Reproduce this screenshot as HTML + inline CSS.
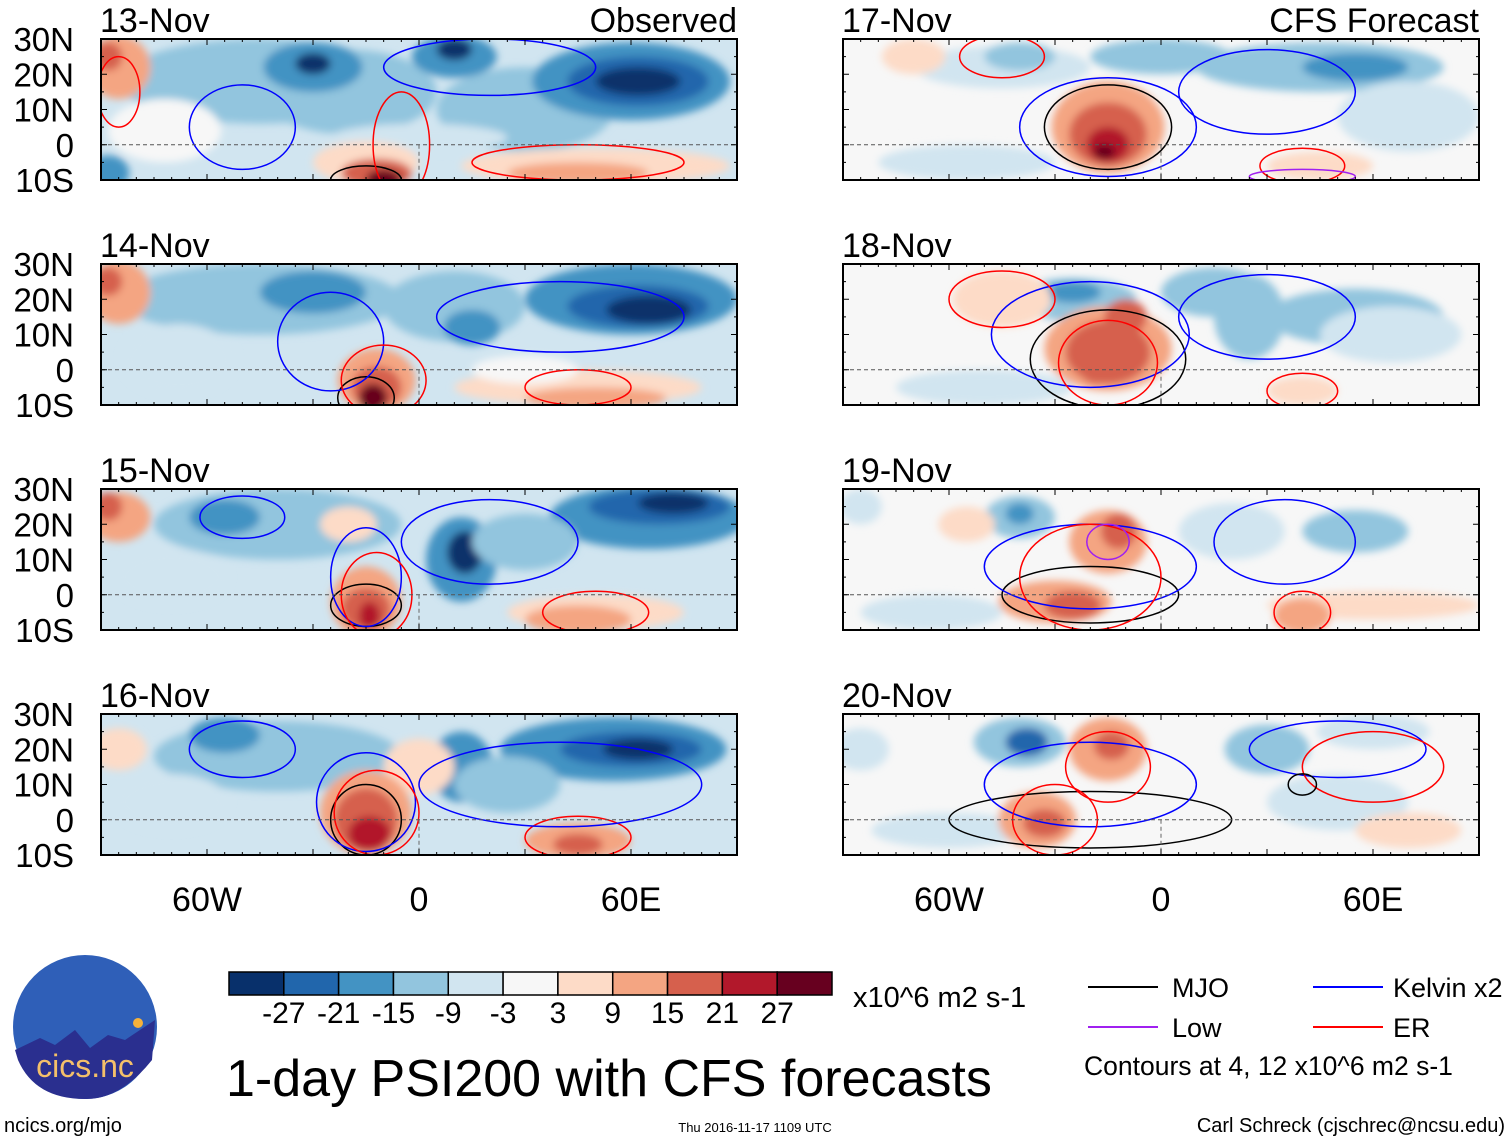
<!DOCTYPE html>
<html><head><meta charset="utf-8">
<style>
html,body{margin:0;padding:0;background:#fff;}
svg{display:block;font-family:"Liberation Sans",Arial,sans-serif;}
</style></head>
<body>
<svg id="fig" width="1510" height="1142" viewBox="0 0 1510 1142" xmlns="http://www.w3.org/2000/svg">
<defs>
<filter id="blur" x="-20%" y="-20%" width="140%" height="140%"><feGaussianBlur stdDeviation="4"/></filter>
</defs>
<g id="panels"></g>
<g id="bottom"></g>
</svg>
<script>
// ---- data ----
const panelTitles = ["13-Nov","14-Nov","15-Nov","16-Nov","17-Nov","18-Nov","19-Nov","20-Nov"];
const latTicks = [30,20,10,0,-10];
const latLabels = ["30N","20N","10N","0","10S"];
const lonTicks = [-60,0,60];
const lonLabels = ["60W","0","60E"];
const cbLevels = [-27,-21,-15,-9,-3,3,9,15,21,27];
const cbColors = ["#08306b","#2166ac","#4393c3","#92c5de","#d1e5f0","#f7f7f7","#fddbc7","#f4a582","#d6604d","#b2182b","#67001f"];
const panelBase = [-8,-8,-7,-7,-1,-1,-1,-1];
// blobs per panel: [lon, lat, rxDeg, ryDeg, value]
const blobs0 = [[-45,18,40,12,-12],[-20,15,25,12,-14],[30,10,25,12,-11],[-30,22,14,7,-19],[-30,23,5,3,-28],[10,25,12,6,-20],[10,27,5,3,-28],[60,18,28,11,-17],[62,18,20,7,-23],[62,18,12,4,-30],[-72,4,16,9,-2],[0,2,25,4,-3],[-85,22,9,9,10],[-88,25,4,4,17],[50,-6,38,5,6],[45,-8,20,3,12],[-15,-5,15,6,8],[-12,-8,10,4,18],[-10,-10,5,3,28],[-88,-8,6,5,-20]];
const blobs1 = [[-45,20,40,10,-12],[-30,22,15,6,-16],[10,18,20,10,-14],[15,12,8,5,-20],[60,20,30,10,-18],[62,18,20,6,-24],[65,17,12,4,-30],[-68,3,16,10,-3],[-85,22,9,9,10],[-88,25,4,4,17],[45,-5,35,5,6],[50,-8,20,3,10],[-12,-3,11,9,12],[-12,-5,7,6,20],[-13,-8,4,4,29],[30,0,15,4,-2]];
const blobs2 = [[-40,20,35,10,-11],[-55,22,10,5,-17],[65,22,28,9,-18],[68,25,20,5,-24],[72,26,10,3,-30],[12,10,10,12,-18],[13,12,5,6,-27],[30,15,15,8,-14],[-85,22,9,7,10],[-88,25,4,4,16],[-70,5,16,8,-3],[50,-5,25,5,7],[45,-7,15,4,13],[-20,20,8,5,6],[-15,-2,10,10,12],[-15,-4,7,6,20],[-14,-6,3,4,27]];
const blobs3 = [[-40,18,35,10,-11],[-55,24,10,5,-16],[55,20,32,9,-16],[60,20,20,5,-22],[62,20,10,3,-27],[12,15,9,10,-16],[25,10,15,8,-11],[-85,20,8,6,6],[-70,5,16,8,-3],[45,-6,15,5,10],[45,-7,7,3,17],[0,15,10,8,6],[-15,2,13,12,12],[-15,0,9,9,18],[-14,-4,6,5,25]];
const blobs4 = [[45,22,35,7,-12],[55,22,15,4,-20],[-45,22,25,6,-8],[-40,25,10,4,-12],[0,25,20,5,-10],[70,8,20,10,-7],[-55,-5,25,5,-5],[45,-6,15,4,8],[-70,25,9,5,7],[-15,5,16,13,10],[-15,3,11,9,16],[-15,0,6,5,24],[-16,-2,3,2,29],[-85,5,8,8,-2]];
const blobs5 = [[-75,10,15,10,-2],[-25,20,18,6,-12],[-25,22,8,3,-16],[15,22,15,7,-12],[25,15,10,12,-9],[55,15,25,8,-11],[65,10,20,8,-7],[-50,-5,25,5,-4],[40,-6,10,4,8],[-45,20,14,8,7],[-15,6,18,12,10],[-15,5,12,9,16],[-18,0,5,4,21],[-10,15,6,5,16]];
const blobs6 = [[-40,22,10,6,-13],[-40,23,4,3,-18],[20,18,15,8,-8],[55,18,15,6,-10],[-65,-5,20,5,-4],[60,-3,30,4,5],[40,-6,8,5,10],[-55,20,8,5,7],[-15,15,11,9,10],[-12,18,5,5,17],[-30,-2,16,6,10],[-25,-3,8,4,16],[-85,25,6,5,-6]];
const blobs7 = [[-60,-3,22,5,-5],[-40,22,13,7,-13],[-38,22,6,4,-22],[30,20,12,7,-10],[60,25,16,5,-8],[50,5,20,8,-5],[70,-3,15,5,6],[-15,20,11,9,10],[-14,21,5,4,18],[-35,0,11,8,10],[-33,-1,6,4,20],[-85,20,8,6,-4]];
const panelBlobs = [blobs0,blobs1,blobs2,blobs3,blobs4,blobs5,blobs6,blobs7];
// contours per panel: [kind, lon, lat, rxDeg, ryDeg]
const cont0 = [["k",-15,-10,10,4],["b",-50,5,15,12],["b",20,22,30,8],["r",-5,0,8,15],["r",45,-5,30,5],["r",-85,15,6,10]];
const cont1 = [["k",-15,-8,8,6],["b",-25,8,15,14],["b",40,15,35,10],["r",-10,-3,12,10],["r",45,-5,15,5]];
const cont2 = [["k",-15,-3,10,6],["b",-15,5,10,14],["b",20,15,25,12],["r",-12,0,10,12],["r",50,-5,15,6],["b",-50,22,12,6]];
const cont3 = [["k",-15,0,10,10],["b",-15,5,14,14],["r",-12,2,12,12],["r",45,-5,15,6],["b",-50,20,15,8],["b",40,10,40,12]];
const cont4 = [["k",-15,5,18,12],["b",-15,5,25,14],["b",30,15,25,12],["r",40,-6,12,5],["r",-45,25,12,6],["p",40,-9,15,2]];
const cont5 = [["k",-15,3,22,14],["b",-20,10,28,15],["b",30,15,25,12],["r",-15,2,14,12],["r",-45,20,15,8],["r",40,-6,10,5]];
const cont6 = [["k",-20,0,25,8],["b",-20,8,30,12],["b",35,15,20,12],["r",-20,5,20,15],["r",40,-5,8,6],["p",-15,15,6,5]];
const cont7 = [["k",-20,0,40,8],["b",-20,10,30,12],["b",50,20,25,8],["r",-30,0,12,10],["r",-15,15,12,10],["r",60,15,20,10],["k",40,10,4,3]];
const panelConts = [cont0,cont1,cont2,cont3,cont4,cont5,cont6,cont7];
const contColors = {k:"#000",b:"#0000ff",r:"#ff0000",p:"#a020f0"};

// ---- geometry ----
const NS="http://www.w3.org/2000/svg";
function el(tag,attrs,parent){const e=document.createElementNS(NS,tag);for(const k in attrs)e.setAttribute(k,attrs[k]);parent.appendChild(e);return e;}
const panelW=636, panelH=141;
function panelOrigin(i){return {x0:(i<4?101:843), y0:39+225*(i%4)};}
function xScale(o,lon){return o.x0+(lon+90)/180*panelW;}
function yScale(o,lat){return o.y0+(30-lat)/40*panelH;}
function colorFor(v){let i=0;while(i<cbLevels.length&&v>cbLevels[i])i++;return cbColors[i];}

const panels=document.getElementById('panels');
panelTitles.forEach((t,i)=>{
  const o=panelOrigin(i);
  const g=el('g',{},panels);
  
  
  const cp=el('clipPath',{id:'cp'+i},g);
  el('rect',{x:o.x0,y:o.y0,width:panelW,height:panelH},cp);
  const fg=el('g',{'clip-path':'url(#cp'+i+')'},g);
  const bg=el('rect',{x:o.x0,y:o.y0,width:panelW,height:panelH,fill:colorFor(panelBase[i])},fg);
  
  
  const bl=el('g',{filter:'url(#blur)'},fg);
  panelBlobs[i].forEach(b=>{
    const e=el('ellipse',{cx:xScale(o,b[0]),cy:yScale(o,b[1]),rx:b[2]*panelW/180,ry:b[3]*panelH/40,fill:colorFor(b[4])},bl);
    
    
  });
  panelConts[i].forEach(c=>{
    const e=el('ellipse',{cx:xScale(o,c[1]),cy:yScale(o,c[2]),rx:c[3]*panelW/180,ry:c[4]*panelH/40,fill:'none',stroke:contColors[c[0]],'stroke-width':1.5},fg);
    
    
  });
  const eq=el('line',{x1:o.x0,x2:o.x0+panelW,y1:yScale(o,0),y2:yScale(o,0),stroke:'#555','stroke-dasharray':'4,3','stroke-width':1},fg);
  
  
  const pm=el('line',{x1:xScale(o,0),x2:xScale(o,0),y1:yScale(o,0),y2:o.y0+panelH,stroke:'#666','stroke-dasharray':'4,3','stroke-width':1},fg);
  
  
  const fr=el('rect',{x:o.x0,y:o.y0,width:panelW,height:panelH,fill:'none',stroke:'#000','stroke-width':2},g);
  
  
  for(let lon=-90;lon<=90;lon+=5){
    const x=xScale(o,lon), L=(lon%30===0)?6:3;
    el('line',{x1:x,x2:x,y1:o.y0,y2:o.y0+L,stroke:'#000'},g);
    el('line',{x1:x,x2:x,y1:o.y0+panelH,y2:o.y0+panelH-L,stroke:'#000'},g);
  }
  for(let lat=-10;lat<=30;lat+=5){
    const y=yScale(o,lat), L=(lat%10===0)?6:3;
    el('line',{x1:o.x0,x2:o.x0+L,y1:y,y2:y,stroke:'#000'},g);
    el('line',{x1:o.x0+panelW,x2:o.x0+panelW-L,y1:y,y2:y,stroke:'#000'},g);
  }
  const tt=el('text',{x:o.x0-1,y:o.y0-7,'font-size':34},g);tt.textContent=t;
  
  
  if(i%4===0){
    const st=el('text',{x:o.x0+panelW,y:o.y0-7,'font-size':34,'text-anchor':'end'},g);
    st.textContent=(i===0?'Observed':'CFS Forecast');
    
    
  }
  if(i<4){
    latTicks.forEach((lat,k)=>{
      const lt=el('text',{x:74,y:yScale(o,lat)+12,'font-size':33,'text-anchor':'end'},g);
      lt.textContent=latLabels[k];
      
      
    });
  }
  if(i%4===3){
    lonTicks.forEach((lon,k)=>{
      const xt=el('text',{x:xScale(o,lon),y:911,'font-size':34,'text-anchor':'middle'},g);
      xt.textContent=lonLabels[k];
      
      
    });
  }
});

// ---- colorbar ----
const bot=document.getElementById('bottom');
const cbX=229, cbW=603/11, cbY=972;
cbColors.forEach((c,i)=>{
  const r=el('rect',{x:cbX+i*cbW,y:cbY,width:cbW,height:23,fill:c,stroke:'#000','stroke-width':1.5},bot);
  
  
});
cbLevels.forEach((v,i)=>{
  const t=el('text',{x:cbX+(i+1)*cbW,y:1023,'font-size':30,'text-anchor':'middle'},bot);
  t.textContent=String(v);
  
  
});
</script>
<script>
(function(){
const NS="http://www.w3.org/2000/svg";
const bot=document.getElementById('bottom');
function el(tag,attrs,parent){const e=document.createElementNS(NS,tag);for(const k in attrs)e.setAttribute(k,attrs[k]);parent.appendChild(e);return e;}
function txt(s,attrs,name){const t=el('text',attrs,bot);t.textContent=s;return t;}
txt('x10^6 m2 s-1',{x:853,y:1007,'font-size':29},'colorbar-units');
txt('1-day PSI200 with CFS forecasts',{x:226,y:1096,'font-size':52},'figure-title');
const leg=[[1088,987,'#000','MJO',1172],[1088,1027,'#a020f0','Low',1172],[1313,987,'#0000ff','Kelvin x2',1393],[1313,1027,'#ff0000','ER',1393]];
leg.forEach(l=>{
  const ln=el('line',{x1:l[0],x2:l[0]+70,y1:l[1],y2:l[1],stroke:l[2],'stroke-width':2},bot);
  
  
  txt(l[3],{x:l[4],y:l[1]+10,'font-size':27},'legend-entry-'+l[3].split(' ')[0].toLowerCase());
});
txt('Contours at 4, 12 x10^6 m2 s-1',{x:1084,y:1075,'font-size':26.5},'contour-note');
txt('ncics.org/mjo',{x:4,y:1132,'font-size':20},'source-url');
txt('Thu 2016-11-17 1109 UTC',{x:755,y:1132,'font-size':13,'text-anchor':'middle'},'timestamp');
txt('Carl Schreck (cjschrec@ncsu.edu)',{x:1505,y:1132,'font-size':20,'text-anchor':'end'},'author-credit');
const lg=el('g',{},bot);


el('circle',{cx:85,cy:1027,r:72,fill:'#2f5fb8'},lg);
el('path',{d:'M15,1050 L40,1038 L55,1045 L75,1030 L90,1048 L108,1035 L125,1040 L155,1020 L152,1060 Q120,1100 85,1099 Q35,1099 18,1060 Z',fill:'#2a2f8f'},lg);
el('circle',{cx:138,cy:1023,r:5,fill:'#f6b23a'},lg);
const lt=el('text',{x:85,y:1077,'font-size':32,'text-anchor':'middle',fill:'#f4c06a'},lg);lt.textContent='cics.nc';
})();
</script>
</body></html>
